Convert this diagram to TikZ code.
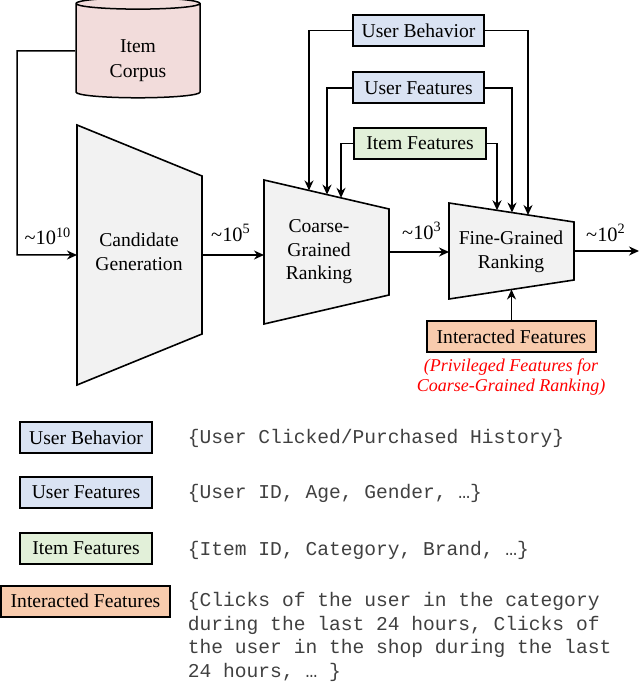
\documentclass[tikz,border=0pt]{standalone}
\usepackage{fontspec}
\setmainfont{Liberation Serif}
\setmonofont{Liberation Mono}
\usetikzlibrary{arrows.meta,shapes.geometric,calc}
\definecolor{behaviorblue}{HTML}{DAE3F3}
\definecolor{itemgreen}{HTML}{E2F0D9}
\definecolor{interorange}{HTML}{F8CBAD}
\definecolor{corpuspink}{HTML}{F2DCDB}
\definecolor{stagegray}{HTML}{F2F2F2}
\tikzset{
  featbox/.style={draw, line width=1pt, minimum height=15.5pt, inner sep=0pt,
    font=\fontsize{9.8}{11.5}\selectfont},
  stage/.style={draw, line width=0.8pt, fill=stagegray},
  stagetext/.style={align=center, font=\fontsize{9.8}{11.75}\selectfont},
  count/.style={font=\fontsize{10.2}{12}\selectfont},
  codetext/.style={anchor=west, align=left, text=black!75,
    font=\ttfamily\fontsize{9.8}{11.75}\selectfont},
  privnote/.style={align=center, text=red, font=\itshape\fontsize{9}{10.2}\selectfont},
}

\begin{document}
\begin{tikzpicture}[x=0.5pt, y=-0.5pt, line width=0.75pt, >={Stealth[length=5pt, width=4.5pt]}]
    \useasboundingbox (0, 0) rectangle (640, 683);
    \node[cylinder, draw, shape border rotate=90, aspect=0.2, fill=corpuspink,
      minimum width=62pt, minimum height=50pt, inner sep=0pt, align=center,
      font=\fontsize{9.8}{12.5}\selectfont] (corpus) at (138, 51) {\rule{0pt}{16pt}Item\\Corpus};

    \coordinate (cg-nw) at (77, 125);
    \coordinate (cg-ne) at (202, 176);
    \coordinate (cg-se) at (202, 334);
    \coordinate (cg-sw) at (77, 385);
    \coordinate (cr-nw) at (264, 180);
    \coordinate (cr-ne) at (389, 209);
    \coordinate (cr-se) at (389, 295);
    \coordinate (cr-sw) at (264, 324);
    \coordinate (fr-nw) at (449, 203);
    \coordinate (fr-ne) at (574, 222);
    \coordinate (fr-se) at (574, 280);
    \coordinate (fr-sw) at (449, 299);
    \draw[stage] (cg-nw) -- (cg-ne) -- (cg-se) -- (cg-sw) -- cycle;
    \draw[stage] (cr-nw) -- (cr-ne) -- (cr-se) -- (cr-sw) -- cycle;
    \draw[stage] (fr-nw) -- (fr-ne) -- (fr-se) -- (fr-sw) -- cycle;
    \node[stagetext] (cg) at (139, 252) {Candidate\\Generation};
    \node[stagetext] (cr) at (319, 252) {Coarse-\\Grained\\Ranking};
    \node[stagetext] (fr) at (511, 252) {Fine-Grained\\Ranking};

    \node[featbox, fill=behaviorblue, minimum width=65.5pt] (ub) at (418.5, 30.5) {User Behavior};
    \node[featbox, fill=behaviorblue, minimum width=65.5pt] (uf) at (418.5, 88) {User Features};
    \node[featbox, fill=itemgreen, minimum width=66pt] (if) at (420, 143.5) {Item Features};
    \node[featbox, fill=interorange, minimum width=84.5pt] (ia) at (511.5, 336.5) {Interacted Features};
    \node[privnote] (priv) at (511, 377) {(Privileged Features for\\Coarse-Grained Ranking)};

    \node[count] (n10) at (48, 236) {\textasciitilde10\textsuperscript{10}};
    \node[count] (n5) at (231, 233) {\textasciitilde10\textsuperscript{5}};
    \node[count] (n3) at (422, 231) {\textasciitilde10\textsuperscript{3}};
    \node[count] (n2) at (606, 233) {\textasciitilde10\textsuperscript{2}};

    \coordinate (cg-w) at (77, 255);
    \coordinate (cg-e) at (202, 255);
    \coordinate (cr-w) at (264, 252);
    \coordinate (cr-e) at (389, 252);
    \coordinate (fr-w) at (449, 251);
    \coordinate (fr-e) at (574, 251);
    \coordinate (out) at (639, 251);
    \coordinate (cr-a) at ($(cr-nw)!0.36!(cr-ne)$);
    \coordinate (cr-b) at ($(cr-nw)!0.504!(cr-ne)$);
    \coordinate (cr-c) at ($(cr-nw)!0.616!(cr-ne)$);
    \coordinate (fr-a) at ($(fr-nw)!0.384!(fr-ne)$);
    \coordinate (fr-b) at ($(fr-nw)!0.504!(fr-ne)$);
    \coordinate (fr-c) at ($(fr-nw)!0.632!(fr-ne)$);
    \coordinate (fr-d) at ($(fr-sw)!0.5!(fr-se)$);
    \begin{scope}[->]
      \draw (corpus.west) -- (17, 51) |- (cg-w);
      \draw (cg-e) -- (cg-e -| cr-w);
      \draw (cr-e) -- (cr-e -| fr-w);
      \draw (fr-e) -- (out);
      \draw (ub.west) -| (cr-a);
      \draw (uf.west) -| (cr-b);
      \draw (if.west) -| (cr-c);
      \draw (ub.east) -| (fr-c);
      \draw (uf.east) -| (fr-b);
      \draw (if.east) -| (fr-a);
      \draw (ia.north) -- (fr-d);
    \end{scope}

    \node[featbox, fill=behaviorblue, minimum width=66pt] (lub) at (86, 437.5) {User Behavior};
    \node[featbox, fill=behaviorblue, minimum width=66pt] (luf) at (86, 492) {User Features};
    \node[featbox, fill=itemgreen, minimum width=66pt] (lif) at (86, 548) {Item Features};
    \node[featbox, fill=interorange, minimum width=84.5pt] (lia) at (85.5, 601) {Interacted Features};
    \node[codetext] (dub) at (180.5, 438) {\{User Clicked/Purchased History\}};
    \node[codetext] (duf) at (180.5, 493) {\{User ID, Age, Gender, …\}};
    \node[codetext] (dif) at (180.5, 550) {\{Item ID, Category, Brand, …\}};
    \node[codetext] (dia) at (180.5, 637) {\{Clicks of the user in the category\\during the last 24 hours, Clicks of\\the user in the shop during the last\\24 hours, … \}};
\end{tikzpicture}
\end{document}
